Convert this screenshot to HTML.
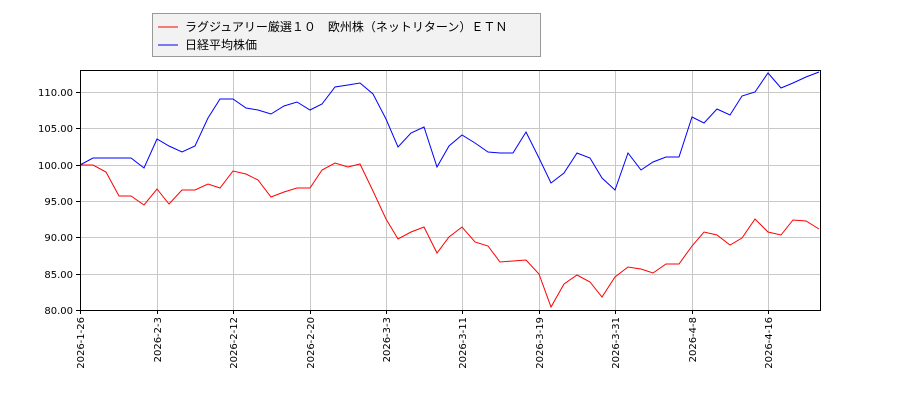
<!DOCTYPE html>
<html><head><meta charset="utf-8"><style>body{margin:0;background:#fff}svg{display:block}</style></head><body>
<svg width="900" height="400" xmlns="http://www.w3.org/2000/svg" font-family="DejaVu Sans, Noto Sans CJK JP, sans-serif">
<rect width="900" height="400" fill="#fff"/>
<g stroke="#c8c8c8" stroke-width="1">
<line x1="80" y1="92.5" x2="820" y2="92.5"/><line x1="80" y1="128.5" x2="820" y2="128.5"/><line x1="80" y1="165.5" x2="820" y2="165.5"/><line x1="80" y1="201.5" x2="820" y2="201.5"/><line x1="80" y1="237.5" x2="820" y2="237.5"/><line x1="80" y1="274.5" x2="820" y2="274.5"/>
<line x1="157.5" y1="70" x2="157.5" y2="310"/><line x1="233.5" y1="70" x2="233.5" y2="310"/><line x1="310.5" y1="70" x2="310.5" y2="310"/><line x1="386.5" y1="70" x2="386.5" y2="310"/><line x1="462.5" y1="70" x2="462.5" y2="310"/><line x1="539.5" y1="70" x2="539.5" y2="310"/><line x1="615.5" y1="70" x2="615.5" y2="310"/><line x1="692.5" y1="70" x2="692.5" y2="310"/><line x1="768.5" y1="70" x2="768.5" y2="310"/>
</g>
<polyline fill="none" stroke="#00f" stroke-width="1" points="80,165 93,158 106,158 119,158 131,158 144,168 157,139 169,146 182,152 195,146 208,118 220,99 233,99 246,108 258,110 271,114 284,106 297,102 310,110 322,104 335,87 348,85 360,83 373,94 386,119 398,147 411,133 424,127 437,167 449,146 462,135 475,143 488,152 500,153 513,153 526,132 539,158 551,183 564,173 577,153 590,158 602,178 615,190 628,153 641,170 653,162 666,157 679,157 692,117 704,123 717,109 730,115 742,96 755,92 768,73 781,88 793,83 806,77 819,72"/>
<polyline fill="none" stroke="#f00" stroke-width="1" points="80,165 93,165 106,172 119,196 131,196 144,205 157,189 169,204 182,190 195,190 208,184 220,188 233,171 246,174 258,180 271,197 284,192 297,188 310,188 322,170 335,163 348,167 360,164 373,191 386,219 398,239 411,232 424,227 437,253 449,237 462,227 475,242 488,246 500,262 513,261 526,260 539,274 551,307 564,284 577,275 590,282 602,297 615,277 628,267 641,269 653,273 666,264 679,264 692,246 704,232 717,235 730,245 742,238 755,219 768,232 781,235 793,220 806,221 819,229"/>
<rect x="80.5" y="70.5" width="740" height="240" fill="none" stroke="#000"/>
<g stroke="#000"><line x1="76" y1="92.5" x2="80" y2="92.5"/><line x1="76" y1="128.5" x2="80" y2="128.5"/><line x1="76" y1="165.5" x2="80" y2="165.5"/><line x1="76" y1="201.5" x2="80" y2="201.5"/><line x1="76" y1="237.5" x2="80" y2="237.5"/><line x1="76" y1="274.5" x2="80" y2="274.5"/><line x1="76" y1="310.5" x2="80" y2="310.5"/>
<line x1="80.5" y1="310" x2="80.5" y2="314"/><line x1="157.5" y1="310" x2="157.5" y2="314"/><line x1="233.5" y1="310" x2="233.5" y2="314"/><line x1="310.5" y1="310" x2="310.5" y2="314"/><line x1="386.5" y1="310" x2="386.5" y2="314"/><line x1="462.5" y1="310" x2="462.5" y2="314"/><line x1="539.5" y1="310" x2="539.5" y2="314"/><line x1="615.5" y1="310" x2="615.5" y2="314"/><line x1="692.5" y1="310" x2="692.5" y2="314"/><line x1="768.5" y1="310" x2="768.5" y2="314"/></g>
<g font-size="10" text-anchor="end" fill="#000"><text x="73" y="96">110.00</text><text x="73" y="132">105.00</text><text x="73" y="169">100.00</text><text x="73" y="205">95.00</text><text x="73" y="241">90.00</text><text x="73" y="278">85.00</text><text x="73" y="314">80.00</text></g>
<g font-size="10" text-anchor="end" fill="#000">
<text transform="translate(84,317) rotate(-90)">2026-1-26</text><text transform="translate(161,317) rotate(-90)">2026-2-3</text><text transform="translate(237,317) rotate(-90)">2026-2-12</text><text transform="translate(314,317) rotate(-90)">2026-2-20</text><text transform="translate(390,317) rotate(-90)">2026-3-3</text><text transform="translate(466,317) rotate(-90)">2026-3-11</text><text transform="translate(543,317) rotate(-90)">2026-3-19</text><text transform="translate(619,317) rotate(-90)">2026-3-31</text><text transform="translate(696,317) rotate(-90)">2026-4-8</text><text transform="translate(772,317) rotate(-90)">2026-4-16</text></g>
<rect x="152.5" y="13.5" width="388" height="43" fill="#f2f2f2" stroke="#999"/>
<line x1="158" y1="27" x2="178" y2="27" stroke="#f00"/>
<line x1="158" y1="45" x2="178" y2="45" stroke="#00f"/>
<g font-size="12" fill="#000"><text x="185" y="31">ラグジュアリー厳選１０　欧州株（ネットリターン）ＥＴＮ</text><text x="185" y="49">日経平均株価</text></g>
</svg>
</body></html>
